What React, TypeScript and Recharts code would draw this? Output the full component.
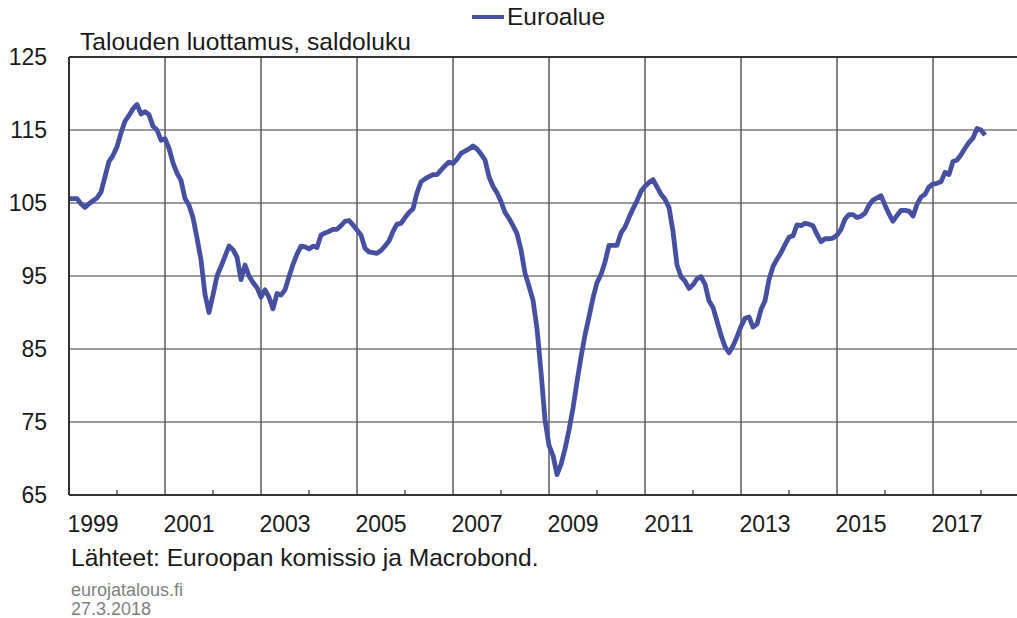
import { LineChart, Line, XAxis, YAxis, CartesianGrid, ReferenceLine } from "recharts";

// Euro area economic sentiment, monthly Jan 1999 – Feb 2018
const startYear = 1999;
const sentiment = [
  105.6, 105.6, 105.6, 104.9, 104.4, 104.9, 105.3, 105.7, 106.5, 108.6, 110.7, 111.5,
  112.7, 114.6, 116.2, 117.0, 117.9, 118.5, 117.2, 117.5, 117.1, 115.5, 115.0, 113.6,
  113.8, 112.5, 110.5, 109.1, 108.1, 105.6, 104.7, 103.0, 100.2, 97.2, 92.5, 90.0,
  92.4, 95.0, 96.3, 97.7, 99.1, 98.6, 97.6, 94.5, 96.5, 95.0, 94.1, 93.4,
  92.1, 93.1, 92.1, 90.5, 92.6, 92.4, 93.1, 94.9, 96.6, 98.0, 99.1, 99.0,
  98.7, 99.1, 98.9, 100.6, 100.9, 101.1, 101.4, 101.4, 101.9, 102.5, 102.6, 102.0,
  101.3, 100.6, 98.8, 98.3, 98.2, 98.1, 98.5, 99.1, 99.8, 101.1, 102.1, 102.2,
  103.0, 103.7, 104.2, 106.4, 107.9, 108.3, 108.6, 108.9, 108.9, 109.5, 110.1, 110.6,
  110.4, 111.0, 111.8, 112.1, 112.4, 112.8, 112.4, 111.7, 110.9, 108.6, 107.3, 106.4,
  105.2, 103.7, 102.9, 101.9, 100.8, 98.6, 95.4, 93.6, 91.7, 87.8, 81.9, 75.3,
  71.8, 70.4, 67.8, 69.2, 71.3, 73.9, 76.9, 80.5, 83.9, 86.9, 89.4, 92.0,
  94.1, 95.2, 96.9, 99.2, 99.2, 99.2, 100.9, 101.7, 103.0, 104.2, 105.3, 106.6,
  107.3, 107.8, 108.2, 107.2, 106.2, 105.5, 104.4, 101.1, 96.5, 94.9, 94.3, 93.3,
  93.8, 94.6, 94.9, 93.9, 91.6, 90.7, 88.8, 86.9, 85.3, 84.5, 85.4, 86.7,
  88.1, 89.2, 89.4, 88.0, 88.4, 90.4, 91.6, 94.5, 96.3, 97.3, 98.2, 99.3,
  100.3, 100.5, 102.0, 101.9, 102.2, 102.1, 101.9, 100.7, 99.7, 100.1, 100.1, 100.2,
  100.6, 101.4, 102.8, 103.4, 103.4, 103.0, 103.2, 103.6, 104.7, 105.4, 105.7, 106.0,
  104.7, 103.5, 102.5, 103.3, 104.0, 104.0, 103.9, 103.2, 104.8, 105.8, 106.2, 107.2,
  107.6, 107.7, 107.9, 109.2, 108.9, 110.7, 110.9, 111.6, 112.5, 113.3, 113.9, 115.2,
  115.0, 114.3,
];

const yTicks = [65, 75, 85, 95, 105, 115, 125];
const labelYears = [1999, 2001, 2003, 2005, 2007, 2009, 2011, 2013, 2015, 2017];
const gridYears = [2001, 2003, 2005, 2007, 2009, 2011, 2013, 2015, 2017];
const minorYears = [2000, 2002, 2004, 2006, 2008, 2010, 2012, 2014, 2016, 2018];

const seriesName = "Euroalue";
const title = "Talouden luottamus, saldoluku";
const source = "Lähteet: Euroopan komissio ja Macrobond.";
const site = "eurojatalous.fi";
const date = "27.3.2018";

const data = sentiment.map((v, i) => ({ t: startYear + i / 12, v }));
const FONT = '"Liberation Sans", Arial, sans-serif';
const LINE = "#4650a0";

export default function App() {
  return (
    <div style={{ position: "absolute", left: 0, top: 0, width: 1017, height: 618, background: "#fff", fontFamily: FONT, color: "#1a1a1a" }}>
      {/* legend */}
      <div style={{ position: "absolute", left: 472, top: 4, height: 26, display: "flex", alignItems: "center", fontSize: 24.5, lineHeight: 1 }}>
        <span style={{ display: "inline-block", width: 32, height: 4, background: LINE, marginRight: 3 }} />
        <span>{seriesName}</span>
      </div>
      <div style={{ position: "absolute", left: 80, top: 30, fontSize: 24.6, lineHeight: 1, whiteSpace: "nowrap" }}>{title}</div>

      <LineChart width={1017} height={618} data={data} margin={{ top: 57, right: 0, left: 0, bottom: 83 }}>
        <CartesianGrid vertical={false} stroke="#7a7a7a" strokeWidth={1.5} />
        {gridYears.map((y) => (
          <ReferenceLine key={y} x={y} stroke="#5a5a5a" strokeWidth={1.5} />
        ))}
        {minorYears.map((y) => (
          <ReferenceLine key={"m" + y} segment={[{ x: y, y: 65 }, { x: y, y: 65.7 }]} stroke="#5a5a5a" strokeWidth={1.5} ifOverflow="hidden" />
        ))}
        <ReferenceLine y={125} stroke="#333" strokeWidth={2} />
        <XAxis
          dataKey="t"
          type="number"
          domain={[1999, 2018.75]}
          allowDataOverflow
          ticks={labelYears.map((y) => y + 0.5)}
          tickFormatter={(v: number) => String(Math.floor(v))}
          tick={{ fill: "#1a1a1a", fontSize: 23, fontFamily: FONT }}
          tickLine={false}
          tickSize={0}
          tickMargin={21}
          axisLine={{ stroke: "#333", strokeWidth: 2 }}
          height={40}
          interval={0}
        />
        <YAxis
          domain={[65, 125]}
          ticks={yTicks}
          width={69}
          tick={{ fill: "#1a1a1a", fontSize: 23, fontFamily: FONT }}
          tickLine={false}
          tickSize={0}
          tickMargin={22}
          axisLine={{ stroke: "#333", strokeWidth: 2 }}
          interval={0}
        />
        <Line
          type="linear"
          dataKey="v"
          stroke={LINE}
          strokeWidth={4.8}
          strokeLinejoin="round"
          dot={false}
          isAnimationActive={false}
        />
      </LineChart>

      <div style={{ position: "absolute", left: 71, top: 546, fontSize: 24.6, lineHeight: 1, whiteSpace: "nowrap" }}>{source}</div>
      <div style={{ position: "absolute", left: 71, top: 581, fontSize: 18, lineHeight: 1, color: "#7f7f7f" }}>{site}</div>
      <div style={{ position: "absolute", left: 71, top: 600, fontSize: 18, lineHeight: 1, color: "#7f7f7f" }}>{date}</div>
    </div>
  );
}
